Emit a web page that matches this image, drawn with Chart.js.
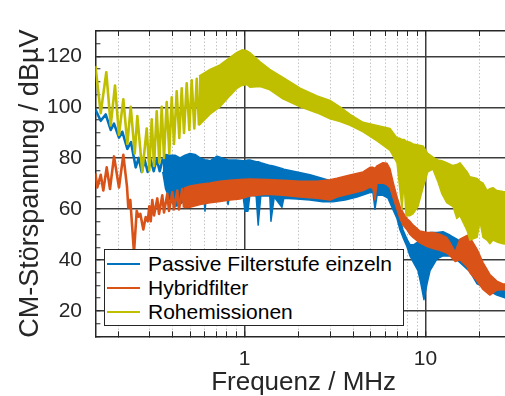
<!DOCTYPE html>
<html>
<head>
<meta charset="utf-8">
<script src="https://cdn.jsdelivr.net/npm/chart.js@4.4.1/dist/chart.umd.min.js"></script>
<style>
  html, body { margin: 0; padding: 0; background: #fff; width: 505px; height: 396px; overflow: hidden; }
  #wrap { position: relative; width: 520px; height: 396px; }
  canvas { display: block; }
  #legend {
    position: absolute; left: 104px; top: 249px; width: 298px; height: 75px;
    border: 1.5px solid #262626; background: #fff;
    font-family: 'Liberation Sans', Arial, Helvetica, sans-serif; font-size: 21px; color: #000;
  }
  #legend .row { position: absolute; left: 0; width: 100%; height: 24px; }
  #legend .sw { position: absolute; left: 2px; top: 11px; width: 33px; height: 2.5px; }
  #legend .lbl { position: absolute; left: 43px; top: 0; line-height: 24px; white-space: nowrap; }
</style>
</head>
<body>
<div id="wrap">
  <canvas id="c" width="520" height="396"></canvas>
  <div id="legend"></div>
</div>
<script>
// Series names and colours
const seriesNames = ['Passive Filterstufe einzeln', 'Hybridfilter', 'Rohemissionen'];
const seriesColors = ['#0072BD', '#D95319', '#BFBF00'];

// Axis ticks
const xTickValues = [0.2, 0.3, 0.4, 0.5, 0.6, 0.7, 0.8, 0.9, 1, 2, 3, 4, 5, 6, 7, 8, 9, 10, 20];
const xLabeled = [1, 10];
const yTickValues = [10, 15, 20, 25, 30, 35, 40, 45, 50, 55, 60, 65, 70, 75, 80, 85, 90, 95, 100, 105, 110, 115, 120, 125, 130];
const yLabeled = [20, 40, 60, 80, 100, 120];

// Passive filter stage: low-frequency trace [MHz, dBµV] and dense band [MHz, upper, lower]
const passiveTrace = [[0.15,99.1],[0.1605,94.7],[0.171,97.2],[0.1823,91.1],[0.1901,93.6],[0.2025,88.1],[0.2113,90.4],[0.2252,83.7],[0.236,86.3],[0.2505,76.4],[0.2603,80.1],[0.2704,74.6],[0.2809,79.3],[0.2918,74.6],[0.3032,79.3],[0.315,74.9],[0.3272,79.7],[0.34,74.9],[0.3532,79.7]];
const passiveBand = [[0.3532,79.7,74.6],[0.366,81.5,68.0],[0.388,81.2,63.6],[0.413,81.2,61.0],[0.44,80.1,61.8],[0.469,81.2,63.6],[0.5,81.9,65.4],[0.533,81.5,67.3],[0.568,80.1,68.0],[0.59,79.7,68.0],[0.605,79.3,59.2],[0.621,79.3,68.0],[0.645,79.0,68.7],[0.705,80.8,68.7],[0.78,79.7,68.7],[0.811,79.3,61.8],[0.842,79.3,68.0],[0.898,79.3,68.0],[0.981,79.0,65.4],[1.006,79.0,59.2],[1.045,79.3,59.2],[1.07,79.3,65.4],[1.16,78.6,65.1],[1.19,78.6,53.7],[1.23,78.2,65.1],[1.38,77.1,65.1],[1.40,77.1,55.2],[1.46,76.8,64.7],[1.61,76.0,60.7],[1.65,75.7,64.3],[1.95,74.6,64.0],[2.30,73.5,63.6],[2.71,72.0,62.9],[3.08,70.9,62.9],[3.59,70.2,63.6],[4.18,69.5,64.7],[4.94,68.7,66.5],[5.13,69.5,66.5],[5.26,69.5,59.9],[5.40,70.2,65.4],[5.82,70.9,65.4],[6.21,70.2,64.3],[6.61,66.5,59.9],[6.96,61.8,56.3],[7.23,56.3,51.9],[7.51,51.9,48.9],[7.90,48.2,45.3],[8.21,46.0,41.6],[8.64,46.0,38.7],[9.09,47.1,35.8],[9.44,48.2,30.6],[9.81,48.9,24.4],[10.2,49.7,30.6],[10.6,50.8,35.8],[11.6,50.8,40.5],[12.5,51.1,41.6],[13.7,49.7,41.6],[14.9,48.2,40.1],[16.1,46.7,37.9],[17.6,45.3,35.4],[19.3,39.8,30.6],[20.8,37.2,29.5],[22.7,33.6,27.7],[24.8,31.4,26.2],[27.5,29.9,25.1],[30,29.5,24.8]];

// Hybrid filter
const hybridTrace = [[0.15,74.0],[0.1537,68.5],[0.1605,73.5],[0.1659,67.3],[0.1732,76.4],[0.1806,67.9],[0.1901,80.7],[0.2025,68.5],[0.214,81.3],[0.2243,68.7],[0.228,60.6],[0.2339,63.6],[0.2451,42.8],[0.2537,59.3],[0.2603,57.0],[0.2657,58.1],[0.276,52.0],[0.2845,56.9],[0.2918,55.2],[0.2979,61.1],[0.3032,55.2],[0.3094,63.6],[0.3162,57.5],[0.3297,64.2],[0.3369,58.1],[0.3514,65.4],[0.359,58.7],[0.3746,66.0],[0.3828,59.3],[0.3993,66.6],[0.4077,59.9],[0.4253,67.3],[0.4346,59.9],[0.4533,67.9],[0.4631,60.6]];
const hybridBand = [[0.4631,68.2,60.6],[0.5,69.1,60.7],[0.568,69.8,61.8],[0.645,70.3,62.5],[0.732,70.9,63.0],[0.832,71.3,63.6],[0.944,71.6,64.0],[1.07,71.8,65.1],[1.33,71.6,65.8],[1.63,71.3,65.4],[2.03,70.9,64.8],[2.52,70.9,64.3],[2.97,71.5,63.6],[3.24,72.1,64.7],[3.83,73.4,66.0],[4.52,74.6,67.3],[4.94,76.4,68.7],[5.13,76.4,68.0],[5.26,76.0,63.6],[5.40,77.0,70.2],[5.82,78.2,70.2],[6.13,78.0,69.5],[6.37,75.8,68.4],[6.61,70.9,64.7],[6.96,64.8,59.9],[7.23,61.1,56.3],[7.51,58.7,53.7],[7.90,56.3,51.9],[8.21,55.2,50.0],[8.53,53.8,48.9],[9.32,51.4,46.7],[10.2,50.8,45.3],[11.0,50.8,44.5],[12.0,50.1,43.8],[13.1,48.9,42.7],[13.7,46.7,41.6],[14.6,43.1,39.4],[15.5,48.2,40.1],[17.0,49.7,37.2],[17.6,48.9,35.0],[19.3,44.2,31.7],[20.8,39.0,28.4],[22.7,34.3,26.2],[24.8,31.7,28.1],[26.8,30.6,28.4],[30,30.6,27.7]];

// Raw emissions
const rawTrace = [[0.15,116.3],[0.1605,97.7],[0.1723,113.8],[0.1823,92.9],[0.1925,108.6],[0.2025,89.2],[0.214,103.2],[0.2252,85.6],[0.2351,100.2],[0.2474,81.9],[0.2557,96.6],[0.2725,74.6],[0.2882,91.7],[0.2979,75.2],[0.3071,95.3],[0.3162,77.0],[0.3272,98.4],[0.3383,78.2],[0.3487,100.2],[0.359,80.1],[0.3716,102.1],[0.3841,81.9],[0.3961,103.9],[0.4077,85.6],[0.422,106.3],[0.4362,88.0],[0.4498,107.5],[0.4631,89.9],[0.4793,109.4],[0.4955,91.1],[0.5108,110.6],[0.528,91.7],[0.5445,111.2],[0.5605,92.9]];
const rawBand = [[0.5605,112.3,92.9],[0.645,114.9,97.3],[0.732,116.7,100.2],[0.832,119.6,104.6],[0.909,121.6,107.5],[0.969,122.6,108.6],[1.032,122.2,109.0],[1.07,121.5,107.9],[1.22,117.9,108.2],[1.38,114.9,106.9],[1.63,111.8,103.3],[2.03,107.5,100.2],[2.52,104.5,97.8],[2.97,102.7,95.5],[3.37,100.2,94.4],[3.83,97.2,92.9],[4.52,94.1,90.4],[5.40,92.9,86.8],[6.37,91.7,83.1],[6.96,88.0,78.2],[7.23,87.8,67.3],[7.42,87.4,59.9],[7.61,87.4,70.9],[7.81,86.7,57.4],[8.21,86.3,57.4],[8.53,85.6,58.1],[9.09,85.2,61.0],[9.69,84.8,68.4],[10.3,81.9,74.6],[11.0,80.4,75.7],[11.7,79.3,70.9],[12.3,79.0,66.2],[13.1,78.2,62.5],[14.2,77.1,61.0],[14.9,77.5,56.3],[15.5,78.2,57.4],[17.0,74.6,51.5],[17.6,72.7,47.8],[19.3,72.0,48.9],[20.0,70.9,55.2],[20.8,70.2,48.9],[21.9,67.3,47.8],[22.7,68.0,46.4],[23.6,68.4,47.8],[24.8,67.3,47.1],[26.8,66.9,46.4],[30,66.5,46.0]];

const FONT = "'Liberation Sans', Arial, Helvetica, sans-serif";
const AXIS_COLOR = '#262626';
const GRID_DARK = '#3c3c3c';
const GRID_LIGHT = '#c4c4c4';

const toPts = (arr, k) => arr.map(r => ({ x: r[0], y: r[k] }));

// One trace line plus a filled upper/lower band per series.
// Datasets with lower "order" end up on top (raw emissions over hybrid over passive).
function seriesDatasets(name, color, trace, band, order, baseIndex) {
  return [
    { label: name, data: toPts(trace, 1), borderColor: color, backgroundColor: color,
      borderWidth: 2.6, fill: false, order },
    { label: name + ' max', data: toPts(band, 1), borderColor: color, backgroundColor: color,
      borderWidth: 1.5, fill: false, order },
    { label: name + ' min', data: toPts(band, 2), borderColor: color, backgroundColor: color,
      borderWidth: 1.5, fill: baseIndex + 1, order }
  ];
}

const datasets = [
  ...seriesDatasets(seriesNames[2], seriesColors[2], rawTrace, rawBand, 0, 0),
  ...seriesDatasets(seriesNames[1], seriesColors[1], hybridTrace, hybridBand, 1, 3),
  ...seriesDatasets(seriesNames[0], seriesColors[0], passiveTrace, passiveBand, 2, 6)
];

const setXTicks = s => { s.ticks = xTickValues.map(v => ({ value: v })); };
const isMajorX = ctx => ctx.tick && xLabeled.includes(ctx.tick.value);

const chart = new Chart(document.getElementById('c'), {
  type: 'line',
  data: { datasets },
  options: {
    responsive: false,
    animation: false,
    events: [],
    layout: { autoPadding: false, padding: { top: 8.7, right: 8.2, bottom: 0, left: 0 } },
    elements: { point: { radius: 0 }, line: { tension: 0, borderJoinStyle: 'round' } },
    plugins: { legend: { display: false }, tooltip: { enabled: false }, filler: { propagate: false } },
    scales: {
      x: {
        type: 'logarithmic', position: 'bottom', min: 0.15, max: 30, z: 1,
        afterBuildTicks: setXTicks,
        afterFit: s => { s.height = 59.7; },
        ticks: {
          autoSkip: false, maxRotation: 0, minRotation: 0, padding: 15.3, color: AXIS_COLOR,
          font: { family: FONT, size: 21, lineHeight: 1.2 },
          callback: v => xLabeled.includes(v) ? String(v) : ''
        },
        grid: {
          color: ctx => isMajorX(ctx) ? GRID_DARK : GRID_LIGHT,
          lineWidth: ctx => isMajorX(ctx) ? 1.5 : 1,
          tickLength: -5, tickColor: AXIS_COLOR, tickWidth: 1
        },
        border: { display: true, color: AXIS_COLOR, width: 1.5,
          dash: ctx => (ctx.tick && !xLabeled.includes(ctx.tick.value)) ? [1.5, 2] : [] },
        title: { display: true, text: 'Frequenz / MHz', color: AXIS_COLOR,
          font: { family: FONT, size: 26, lineHeight: 1 }, padding: { top: 0, bottom: 0 } }
      },
      x2: {
        type: 'logarithmic', position: 'top', min: 0.15, max: 30, z: 1,
        afterBuildTicks: setXTicks,
        afterFit: s => { s.height = 0; },
        ticks: { display: false, autoSkip: false },
        grid: { drawOnChartArea: false, tickLength: -5, tickColor: AXIS_COLOR, tickWidth: 1 },
        border: { display: true, color: AXIS_COLOR, width: 1.5 }
      },
      y: {
        type: 'linear', position: 'left', min: 10, max: 130, z: 1,
        afterBuildTicks: s => { s.ticks = yTickValues.map(v => ({ value: v })); },
        afterFit: s => { s.width = 95.4; },
        ticks: {
          autoSkip: false, padding: 18.4, color: AXIS_COLOR, font: { family: FONT, size: 21 },
          callback: v => yLabeled.includes(v) ? String(v) : ''
        },
        grid: {
          color: ctx => (ctx.tick && yLabeled.includes(ctx.tick.value)) ? GRID_DARK : 'rgba(0,0,0,0)',
          lineWidth: 1.5, tickLength: -5, tickColor: AXIS_COLOR, tickWidth: 1
        },
        border: { display: true, color: AXIS_COLOR, width: 1.5 },
        title: { display: true, text: 'CM-Störspannung / dBµV', color: AXIS_COLOR,
          font: { family: FONT, size: 27, lineHeight: 1 }, padding: { top: 17.5, bottom: 0 } }
      }
    }
  }
});

// Legend box: one row per series
const legend = document.getElementById('legend');
seriesNames.forEach((name, i) => {
  const row = document.createElement('div');
  row.className = 'row';
  row.style.top = (1.5 + 24 * i) + 'px';
  const sw = document.createElement('div');
  sw.className = 'sw';
  sw.style.background = seriesColors[i];
  const lbl = document.createElement('div');
  lbl.className = 'lbl';
  lbl.textContent = name;
  row.appendChild(sw);
  row.appendChild(lbl);
  legend.appendChild(row);
});
</script>
</body>
</html>
